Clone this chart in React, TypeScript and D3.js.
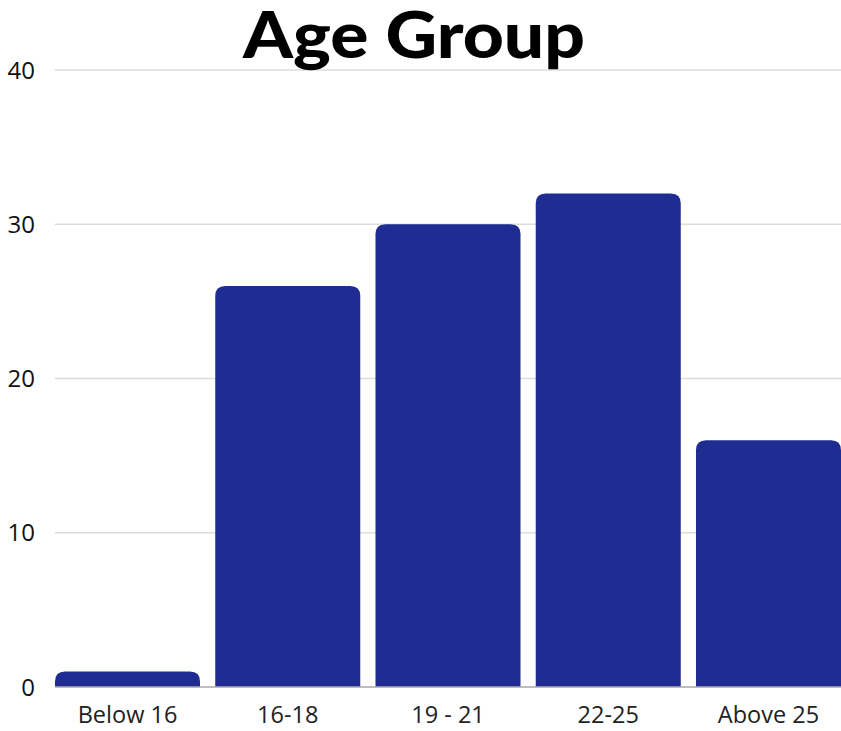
import React from "react";
import * as d3 from "d3";

const categories = ["Below 16", "16-18", "19 - 21", "22-25", "Above 25"];
const counts = [1, 26, 30, 32, 16];
const yTicks = [0, 10, 20, 30, 40];
const title = "Age Group";

const W = 841;
const H = 731;
const margin = { top: 70, right: 0, bottom: 44, left: 55 };

// bar with rounded top corners only
const barPath = (x: number, y: number, w: number, h: number, r: number) => {
  const rr = Math.min(r, h, w / 2);
  return `M${x},${y + h}V${y + rr}Q${x},${y} ${x + rr},${y}H${x + w - rr}Q${x + w},${y} ${x + w},${y + rr}V${y + h}Z`;
};

const App = () => {
  const x = d3
    .scaleBand<string>()
    .domain(categories)
    .range([margin.left, W - margin.right])
    .paddingInner(0.095)
    .paddingOuter(0);

  const y = d3
    .scaleLinear()
    .domain([0, 40])
    .range([H - margin.bottom, margin.top]);

  return (
    <svg
      width={W}
      height={H}
      style={{ position: "absolute", left: 0, top: 0, background: "#fff" }}
    >
      {yTicks.map((t) => (
        <g key={t}>
          {t > 0 && (
            <line
              x1={margin.left}
              x2={W}
              y1={y(t)}
              y2={y(t)}
              stroke="#dcdcdc"
              strokeWidth={1.5}
            />
          )}
          <text
            x={35}
            y={y(t)}
            dy="0.36em"
            textAnchor="end"
            fontFamily="'Open Sans', sans-serif"
            fontSize={24}
            fill="#111"
          >
            {t}
          </text>
        </g>
      ))}

      {categories.map((c, i) => (
        <path
          key={c}
          d={barPath(x(c)!, y(counts[i]), x.bandwidth(), y(0) - y(counts[i]), 10)}
          fill="#1f2d92"
        />
      ))}

      <line
        x1={margin.left}
        x2={W}
        y1={y(0)}
        y2={y(0)}
        stroke="#a8a8a8"
        strokeWidth={1.5}
      />

      {categories.map((c) => (
        <text
          key={c}
          x={x(c)! + x.bandwidth() / 2}
          y={723}
          textAnchor="middle"
          fontFamily="'Open Sans', sans-serif"
          fontSize={23.5}
          fill="#222"
        >
          {c}
        </text>
      ))}

      <text
        x={414}
        y={58}
        textAnchor="middle"
        fontFamily="Lato, sans-serif"
        fontWeight={900}
        fontSize={64}
        textLength={342}
        lengthAdjust="spacingAndGlyphs"
        fill="#000"
      >
        {title}
      </text>
    </svg>
  );
};

export default App;
